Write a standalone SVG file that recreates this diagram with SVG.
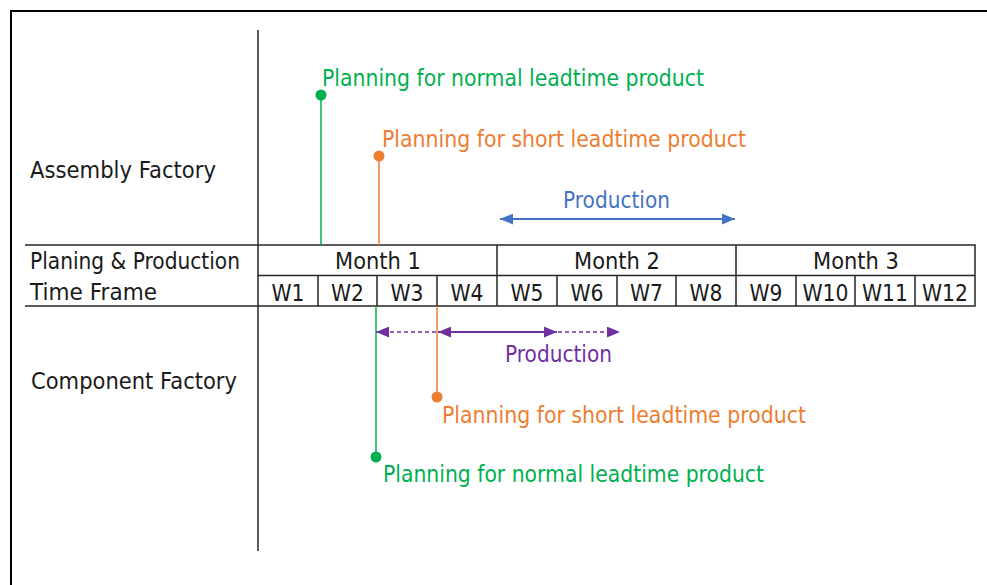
<svg xmlns="http://www.w3.org/2000/svg" width="987" height="585" viewBox="0 0 987 585">
<defs>
<style>
text{font-family:"DejaVu Sans","Liberation Sans",sans-serif;font-size:23px}
.k{fill:#1a1a1a}
.g{fill:#00B050}
.o{fill:#ED7D31}
.b{fill:#4472C4}
.p{fill:#7030A0}
.mid{text-anchor:middle}
.tl{stroke:#262626;stroke-width:1.5;fill:none}
</style>
<marker id="ab" viewBox="0 0 12 10" refX="12" refY="5" markerWidth="13" markerHeight="11" markerUnits="userSpaceOnUse" orient="auto-start-reverse"><path d="M0,0 L12,5 L0,10 Z" fill="#4472C4"/></marker>
<marker id="ap" viewBox="0 0 12 10" refX="12" refY="5" markerWidth="13" markerHeight="11" markerUnits="userSpaceOnUse" orient="auto-start-reverse"><path d="M0,0 L12,5 L0,10 Z" fill="#7030A0"/></marker>
</defs>
<rect width="987" height="585" fill="#fff"/>
<rect x="11" y="11" width="1000" height="600" fill="none" stroke="#000" stroke-width="2"/>

<g id="axis">
<line x1="258" y1="30" x2="258" y2="551" stroke="#262626" stroke-width="1.5"/>
</g>

<g id="labels">
<text class="k" x="30" y="178" textLength="186" lengthAdjust="spacingAndGlyphs">Assembly Factory</text>
<text class="k" x="31" y="389" textLength="206" lengthAdjust="spacingAndGlyphs">Component Factory</text>
</g>

<g id="table">
<path class="tl" d="M25,245 H975 V306 H25 M258,275.5 H975 M497,245 V306 M736,245 V306 M318,275.5 V306 M377,275.5 V306 M437,275.5 V306 M557,275.5 V306 M617,275.5 V306 M676,275.5 V306 M796,275.5 V306 M855,275.5 V306 M915,275.5 V306"/>
<text class="k" x="30" y="269" textLength="210" lengthAdjust="spacingAndGlyphs">Planing &amp; Production</text>
<text class="k" x="30" y="300" textLength="127" lengthAdjust="spacingAndGlyphs">Time Frame</text>
<text class="k mid" x="378" y="269" textLength="86" lengthAdjust="spacingAndGlyphs">Month 1</text>
<text class="k mid" x="617" y="269" textLength="86" lengthAdjust="spacingAndGlyphs">Month 2</text>
<text class="k mid" x="856" y="269" textLength="86" lengthAdjust="spacingAndGlyphs">Month 3</text>
<text class="k mid" x="288" y="301" textLength="33" lengthAdjust="spacingAndGlyphs">W1</text>
<text class="k mid" x="347.5" y="301" textLength="33" lengthAdjust="spacingAndGlyphs">W2</text>
<text class="k mid" x="407" y="301" textLength="33" lengthAdjust="spacingAndGlyphs">W3</text>
<text class="k mid" x="467" y="301" textLength="33" lengthAdjust="spacingAndGlyphs">W4</text>
<text class="k mid" x="527" y="301" textLength="33" lengthAdjust="spacingAndGlyphs">W5</text>
<text class="k mid" x="587" y="301" textLength="33" lengthAdjust="spacingAndGlyphs">W6</text>
<text class="k mid" x="646.5" y="301" textLength="33" lengthAdjust="spacingAndGlyphs">W7</text>
<text class="k mid" x="706" y="301" textLength="33" lengthAdjust="spacingAndGlyphs">W8</text>
<text class="k mid" x="766" y="301" textLength="33" lengthAdjust="spacingAndGlyphs">W9</text>
<text class="k mid" x="825.5" y="301" textLength="46" lengthAdjust="spacingAndGlyphs">W10</text>
<text class="k mid" x="885" y="301" textLength="46" lengthAdjust="spacingAndGlyphs">W11</text>
<text class="k mid" x="945" y="301" textLength="46" lengthAdjust="spacingAndGlyphs">W12</text>
</g>

<g id="connectors">
<line x1="321" y1="95" x2="321" y2="245" stroke="#00B050" stroke-width="1.5"/>
<line x1="379" y1="156" x2="379" y2="245" stroke="#ED7D31" stroke-width="1.5"/>
<line x1="376" y1="306" x2="376" y2="457" stroke="#00B050" stroke-width="1.5"/>
<line x1="437" y1="306" x2="437" y2="397" stroke="#ED7D31" stroke-width="1.5"/>
<line x1="500" y1="219" x2="735" y2="219" stroke="#4472C4" stroke-width="2" marker-start="url(#ab)" marker-end="url(#ab)"/>
<line x1="376" y1="332" x2="620" y2="332" stroke="#7030A0" stroke-width="1.5" stroke-dasharray="4,3" marker-start="url(#ap)" marker-end="url(#ap)"/>
<line x1="438" y1="332" x2="557" y2="332" stroke="#7030A0" stroke-width="2" marker-start="url(#ap)" marker-end="url(#ap)"/>
</g>

<g id="plan-assembly-normal">
<circle cx="321" cy="95" r="5.5" fill="#00B050"/>
<text class="g" x="322" y="86" textLength="382" lengthAdjust="spacingAndGlyphs">Planning for normal leadtime product</text>
</g>
<g id="plan-assembly-short">
<circle cx="379" cy="156" r="5.5" fill="#ED7D31"/>
<text class="o" x="382" y="147" textLength="364" lengthAdjust="spacingAndGlyphs">Planning for short leadtime product</text>
</g>
<g id="production-assembly">
<text class="b" x="563" y="208" textLength="107" lengthAdjust="spacingAndGlyphs">Production</text>
</g>
<g id="production-component">
<text class="p" x="505" y="362" textLength="107" lengthAdjust="spacingAndGlyphs">Production</text>
</g>
<g id="plan-component-short">
<circle cx="437" cy="397" r="5.5" fill="#ED7D31"/>
<text class="o" x="442" y="423" textLength="364" lengthAdjust="spacingAndGlyphs">Planning for short leadtime product</text>
</g>
<g id="plan-component-normal">
<circle cx="376" cy="457" r="5.5" fill="#00B050"/>
<text class="g" x="383" y="482" textLength="381" lengthAdjust="spacingAndGlyphs">Planning for normal leadtime product</text>
</g>
</svg>
